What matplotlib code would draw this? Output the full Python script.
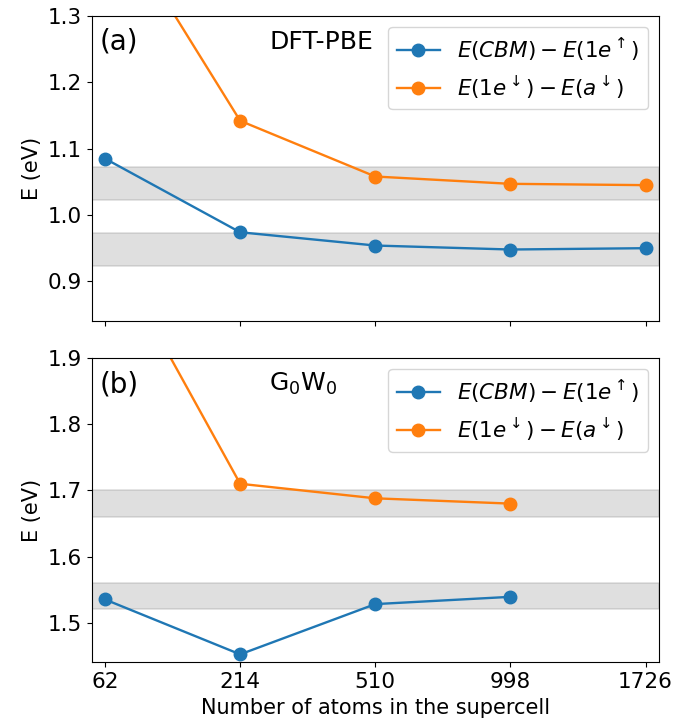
import numpy as np
import matplotlib
matplotlib.use("Agg")
import matplotlib.pyplot as plt

atoms = ["62", "214", "510", "998", "1726"]

# DFT-PBE
pbe_cbm = [1.085, 0.974, 0.954, 0.948, 0.950]
pbe_1e = [1.47, 1.142, 1.058, 1.047, 1.045]
pbe_bands = [(1.022, 1.072), (0.923, 0.973)]

# G0W0 (no 1726 point)
gw_cbm = [1.535, 1.452, 1.528, 1.539]
gw_1e = [2.08, 1.710, 1.688, 1.680]
gw_bands = [(1.66, 1.70), (1.52, 1.56)]

lab1 = r'$E(CBM) - E(1e^\uparrow)$'
lab2 = r'$E(1e^\downarrow) - E(a^\downarrow)$'

fig = plt.figure(figsize=(6.88, 7.25), dpi=100)
ax1 = fig.add_axes([0.133, 0.557, 0.825, 0.421])
ax2 = fig.add_axes([0.133, 0.0865, 0.825, 0.4195], sharex=ax1)

x = np.arange(len(atoms))

for ax, cbm, e1, bands, ylim, tag, name in [
        (ax1, pbe_cbm, pbe_1e, pbe_bands, (0.84, 1.3), "(a)", "DFT-PBE"),
        (ax2, gw_cbm, gw_1e, gw_bands, (1.44, 1.9), "(b)", r"G$_0$W$_0$")]:
    for lo, hi in bands:
        ax.axhspan(lo, hi, color='gray', alpha=0.25, lw=1.2)
    ax.plot(x[:len(cbm)], cbm, 'o-', color='tab:blue', ms=9, lw=1.7, label=lab1)
    ax.plot(x[:len(e1)], e1, 'o-', color='tab:orange', ms=9, lw=1.7, label=lab2)
    ax.set_ylim(*ylim)
    ax.set_ylabel("E (eV)", fontsize=15)
    ax.tick_params(labelsize=15.5)
    ax.legend(loc='upper right', fontsize=15.5)
    ax.text(0.015, 0.915, tag, transform=ax.transAxes, fontsize=20, va='center')
    ax.text(0.313, 0.915, name, transform=ax.transAxes, fontsize=18, va='center')

ax1.set_yticks([0.9, 1.0, 1.1, 1.2, 1.3])
ax2.set_yticks([1.5, 1.6, 1.7, 1.8, 1.9])
ax2.set_xticks(x)
ax2.set_xticklabels(atoms)
ax2.set_xlim(-0.1, 4.1)
plt.setp(ax1.get_xticklabels(), visible=False)
ax2.set_xlabel("Number of atoms in the supercell", fontsize=15)

plt.savefig("out.png", dpi=100)
